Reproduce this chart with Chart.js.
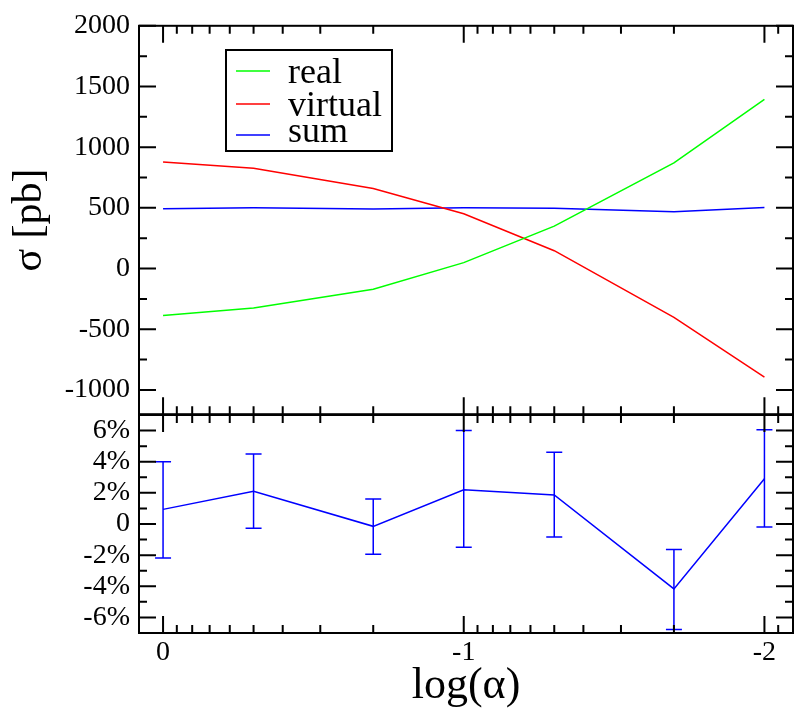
<!DOCTYPE html>
<html>
<head>
<meta charset="utf-8">
<script src="https://cdn.jsdelivr.net/npm/chart.js@4.4.0/dist/chart.umd.min.js"></script>
<style>
  body { margin: 0; background: #fff; }
  #wrap { position: relative; width: 795px; height: 708px; overflow: hidden; }
  #top { position: absolute; left: 0; top: 0; }
  #bot { position: absolute; left: 0; top: 380px; }
</style>
</head>
<body>
<div id="wrap">
  <canvas id="top" width="795" height="440"></canvas>
  <canvas id="bot" width="795" height="328"></canvas>
</div>
<script>
'use strict';

// log(alpha) points
const logAlpha = [0, -0.301, -0.699, -1, -1.301, -1.699, -2];

// upper panel, sigma in pb
const realVals    = [-386, -325, -170, 49, 349, 870, 1394];
const virtualVals = [878, 826, 660, 451, 147, -402, -894];
const sumVals     = [492, 500, 490, 500, 496, 468, 502];

// lower panel, relative deviation in %
const devVals  = [0.94, 2.1, -0.15, 2.2, 1.87, -4.17, 2.9];
const devLow   = [-2.19, -0.28, -1.94, -1.5, -0.83, -6.77, -0.19];
const devHigh  = [4.0, 4.5, 1.6, 6.0, 4.6, -1.64, 6.06];

// tick labels
const xTicks   = [-2, -1, 0];
const yTopTicks = [-1000, -500, 0, 500, 1000, 1500, 2000];
const yTopMinor = [-750, -250, 250, 750, 1250, 1750];
const yBotTicks = [-6, -4, -2, 0, 2, 4, 6];
const yBotMinor = [-5, -3, -1, 1, 3, 5];
const decades = [0, -1, -2];
const minorFactors = [0.9, 0.8, 0.7, 0.6, 0.5, 0.4, 0.3, 0.2];

const serif = 'Liberation Serif, DejaVu Serif, serif';
const X_MIN = -2.095, X_MAX = 0.08;

const pts = vals => vals.map((v, i) => ({ x: logAlpha[i], y: v }));

let xMinor = [];
decades.forEach(d => minorFactors.forEach(f => {
  const v = d + Math.log10(f);
  if (v > X_MIN && v < X_MAX) xMinor.push(v);
}));

// frame + inward ticks on all four sides
const framePlugin = {
  id: 'frame',
  afterDraw(chart, args, opts) {
    const { ctx, chartArea: a } = chart;
    const xs = chart.scales.x, ys = chart.scales.y;
    ctx.save();
    ctx.strokeStyle = '#000';
    ctx.lineWidth = 2;
    const major = 17, minor = 8;
    ctx.beginPath();
    const xt = (vals, len) => vals.forEach(v => {
      const p = xs.getPixelForValue(v);
      ctx.moveTo(p, a.bottom); ctx.lineTo(p, a.bottom - len);
      ctx.moveTo(p, a.top); ctx.lineTo(p, a.top + len);
    });
    const yt = (vals, len) => vals.forEach(v => {
      const p = ys.getPixelForValue(v);
      ctx.moveTo(a.left, p); ctx.lineTo(a.left + len, p);
      ctx.moveTo(a.right, p); ctx.lineTo(a.right - len, p);
    });
    xt(xTicks, major);
    xt(xMinor, minor);
    yt(opts.yMajor, major);
    yt(opts.yMinor, minor);
    ctx.stroke();
    ctx.strokeRect(a.left, a.top, a.right - a.left, a.bottom - a.top);
    ctx.restore();
  }
};

// legend box inside upper panel
const legendPlugin = {
  id: 'boxLegend',
  afterDraw(chart, args, opts) {
    if (!opts.show) return;
    const ctx = chart.ctx;
    ctx.save();
    ctx.fillStyle = '#fff';
    ctx.fillRect(226, 50, 166, 101);
    ctx.strokeStyle = '#000';
    ctx.lineWidth = 2;
    ctx.strokeRect(226, 50, 166, 101);
    const lineY = [71, 104, 135];
    const textY = [83, 116, 142];
    ctx.font = '36px ' + serif;
    ctx.textBaseline = 'alphabetic';
    chart.data.datasets.forEach((ds, i) => {
      ctx.strokeStyle = ds.borderColor;
      ctx.lineWidth = 1.5;
      ctx.beginPath();
      ctx.moveTo(236, lineY[i]); ctx.lineTo(270, lineY[i]);
      ctx.stroke();
      ctx.fillStyle = '#000';
      ctx.fillText(ds.label, 288, textY[i]);
    });
    ctx.restore();
  }
};

// error bars for lower panel
const errorBarPlugin = {
  id: 'errBars',
  afterDatasetsDraw(chart, args, opts) {
    if (!opts.low) return;
    const { ctx } = chart;
    const xs = chart.scales.x, ys = chart.scales.y;
    ctx.save();
    ctx.strokeStyle = '#0000ff';
    ctx.lineWidth = 1.5;
    ctx.beginPath();
    logAlpha.forEach((x, i) => {
      const px = xs.getPixelForValue(x);
      const lo = ys.getPixelForValue(opts.low[i]);
      const hi = ys.getPixelForValue(opts.high[i]);
      ctx.moveTo(px, lo); ctx.lineTo(px, hi);
      ctx.moveTo(px - 8, lo); ctx.lineTo(px + 8, lo);
      ctx.moveTo(px - 8, hi); ctx.lineTo(px + 8, hi);
    });
    ctx.stroke();
    ctx.restore();
  }
};

const lineStyle = color => ({
  borderColor: color, backgroundColor: color, borderWidth: 1.5,
  pointRadius: 0, tension: 0, fill: false
});

new Chart(document.getElementById('top'), {
  type: 'line',
  data: {
    datasets: [
      Object.assign({ label: 'real', data: pts(realVals) }, lineStyle('#00ff00')),
      Object.assign({ label: 'virtual', data: pts(virtualVals) }, lineStyle('#ff0000')),
      Object.assign({ label: 'sum', data: pts(sumVals) }, lineStyle('#0000ff'))
    ]
  },
  options: {
    responsive: false,
    animation: false,
    layout: { padding: { top: 23, right: 2, bottom: 25, left: 0 } },
    plugins: {
      legend: { display: false },
      tooltip: { enabled: false },
      frame: { yMajor: yTopTicks, yMinor: yTopMinor },
      boxLegend: { show: true }
    },
    scales: {
      x: { type: 'linear', min: X_MIN, max: X_MAX, reverse: true, display: false },
      y: {
        min: -1200, max: 2000,
        grid: { display: false, drawTicks: false },
        border: { display: false },
        afterBuildTicks: s => { s.ticks = yTopTicks.map(v => ({ value: v })); },
        afterFit: s => { s.width = 139; },
        ticks: {
          color: '#000', padding: 9, autoSkip: false,
          font: { family: serif, size: 28 },
          callback: v => String(v)
        },
        title: {
          display: true, text: 'σ [pb]', color: '#000',
          font: { family: serif, size: 42, lineHeight: 1 },
          padding: { top: 9, bottom: 0 }
        }
      }
    }
  },
  plugins: [framePlugin, legendPlugin]
});

new Chart(document.getElementById('bot'), {
  type: 'line',
  data: {
    datasets: [
      Object.assign({ label: 'sum', data: pts(devVals) }, lineStyle('#0000ff'))
    ]
  },
  options: {
    responsive: false,
    animation: false,
    layout: { padding: { top: 35, right: 2, bottom: 0, left: 0 } },
    plugins: {
      legend: { display: false },
      tooltip: { enabled: false },
      frame: { yMajor: yBotTicks, yMinor: yBotMinor },
      errBars: { low: devLow, high: devHigh }
    },
    scales: {
      x: {
        type: 'linear', min: X_MIN, max: X_MAX, reverse: true,
        grid: { display: false, drawTicks: false },
        border: { display: false },
        afterBuildTicks: s => { s.ticks = xTicks.map(v => ({ value: v })); },
        afterFit: s => { s.height = 75; },
        ticks: {
          color: '#000', padding: 3, maxRotation: 0, autoSkip: false,
          font: { family: serif, size: 28 },
          callback: v => String(v)
        },
        title: {
          display: true, text: 'log(α)', color: '#000',
          font: { family: serif, size: 44, lineHeight: 1 },
          padding: { top: 0, bottom: 0 }
        }
      },
      y: {
        min: -7, max: 7,
        grid: { display: false, drawTicks: false },
        border: { display: false },
        afterBuildTicks: s => { s.ticks = yBotTicks.map(v => ({ value: v })); },
        afterFit: s => { s.width = 139; },
        ticks: {
          color: '#000', padding: 9, autoSkip: false,
          font: { family: serif, size: 28 },
          callback: v => v === 0 ? '0' : v + '%'
        }
      }
    }
  },
  plugins: [framePlugin, errorBarPlugin]
});
</script>
</body>
</html>
